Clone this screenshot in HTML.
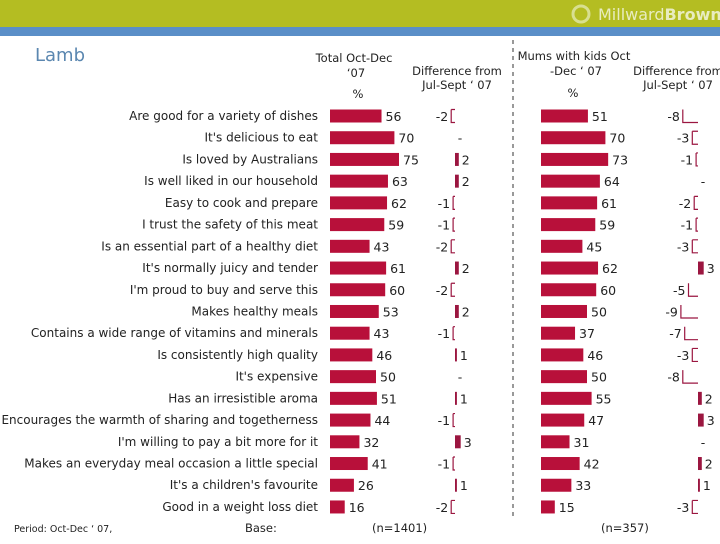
<!DOCTYPE html>
<html><head><meta charset="utf-8"><style>
body{margin:0;width:720px;height:540px;overflow:hidden;background:#fff;font-family:"DejaVu Sans","Liberation Sans",sans-serif;}
svg text{font-family:"DejaVu Sans","Liberation Sans",sans-serif;}
</style></head><body>
<svg id="c" width="720" height="540" xmlns="http://www.w3.org/2000/svg">
<rect x="0" y="0" width="720" height="27" fill="#b4bd22"/>
<rect x="0" y="27" width="720" height="9" fill="#5a8fc8"/>
<text x="598" y="20" font-size="16" fill="#e8ecc0">Millward<tspan font-weight="bold">Brown</tspan></text>
<circle cx="581" cy="14" r="8" fill="none" stroke="#d8df90" stroke-width="3"/>
<text x="35" y="61" font-size="18" fill="#5b87b0">Lamb</text>
<g font-size="11.5" fill="#222" text-anchor="middle">
<text x="354" y="62">Total Oct-Dec</text><text x="356" y="77">‘07</text><text x="358" y="98">%</text>
<text x="457" y="75">Difference from</text><text x="457" y="89">Jul-Sept ‘ 07</text>
<text x="574" y="60">Mums with kids Oct</text><text x="576" y="75">-Dec ‘ 07</text><text x="573" y="97">%</text>
<text x="678" y="75">Difference from</text><text x="678" y="89">Jul-Sept ‘ 07</text>
</g>
<line x1="513" y1="40" x2="513" y2="520" stroke="#333" stroke-dasharray="4,4"/>
<g font-size="11.5" fill="#222">
<text x="14" y="532" font-size="9.5">Period: Oct-Dec ‘ 07,</text>
<text x="245" y="532">Base:</text>
<text x="372" y="532">(n=1401)</text>
<text x="601" y="532">(n=357)</text>
</g>
</svg>
<script>
const categories=["Are good for a variety of dishes","It's delicious to eat","Is loved by Australians","Is well liked in our household","Easy to cook and prepare","I trust the safety of this meat","Is an essential part of a healthy diet","It's normally juicy and tender","I'm proud to buy and serve this","Makes healthy meals","Contains a wide range of vitamins and minerals","Is consistently high quality","It's expensive","Has an irresistible aroma","Encourages the warmth of sharing and togetherness","I'm willing to pay a bit more for it","Makes an everyday meal occasion a little special","It's a children's favourite","Good in a weight loss diet"];
const totalValues=[56,70,75,63,62,59,43,61,60,53,43,46,50,51,44,32,41,26,16];
const totalDiff=[-2,0,2,2,-1,-1,-2,2,-2,2,-1,1,0,1,-1,3,-1,1,-2];
const mumsValues=[51,70,73,64,61,59,45,62,60,50,37,46,50,55,47,31,42,33,15];
const mumsDiff=[-8,-3,-1,0,-2,-1,-3,3,-5,-9,-7,-3,-8,2,3,0,2,1,-3];
const svg=document.getElementById('c');
const NS='http://www.w3.org/2000/svg';
const y0=116,step=21.72,bh=13,RED='#b8103a';
const yS=i=>y0+i*step;
const xTot=v=>330+v*0.92, xMum=v=>541+v*0.92;
const dTot=v=>455+v*1.9, dMum=v=>698+v*1.9;
function mk(tag,attrs,parent){const e=document.createElementNS(NS,tag);for(const k in attrs)e.setAttribute(k,attrs[k]);(parent||svg).appendChild(e);return e;}
function txt(x,y,s,anchor,extra){const t=mk('text',Object.assign({x:x,y:y,'font-size':12.5,fill:'#222','text-anchor':anchor},extra||{}));t.textContent=s;return t;}
function diffMark(v,i,xf,name){
  const y=yS(i),z=xf(0);
  if(v>0){const r=mk('rect',{x:z,y:y-bh/2,width:xf(v)-z,height:bh,fill:'#9b1640'});
    
    
    const t=txt(xf(v)+3,y+5,String(v),'start');
    
    
  }else if(v<0){const x1=xf(v)-1;
    const p=mk('path',{d:`M${x1+1} ${y-bh/2} L${x1+1} ${y+bh/2} L${z} ${y+bh/2}`+(v<-3?'':` M${x1+1} ${y-bh/2} L${z} ${y-bh/2}`),fill:'none',stroke:'#9b1640','stroke-width':1.2});
    
    
    const t=txt(x1-2,y+5,String(v),'end');
    
    
  }else{const t=txt(z+5,y+5,'-','middle');
    
    }
}
categories.forEach((c,i)=>{
  const y=yS(i);
  const l=txt(318,y+4,c,'end',{'font-size':12,textLength:'',});
  l.removeAttribute('textLength');
  
  
  const b=mk('rect',{x:xTot(0),y:y-bh/2,width:xTot(totalValues[i])-xTot(0),height:bh,fill:RED});
  
  
  const tv=txt(xTot(totalValues[i])+4,y+5,String(totalValues[i]),'start');
  
  
  const m=mk('rect',{x:xMum(0),y:y-bh/2,width:xMum(mumsValues[i])-xMum(0),height:bh,fill:RED});
  
  
  const mv=txt(xMum(mumsValues[i])+4,y+5,String(mumsValues[i]),'start');
  
  
  diffMark(totalDiff[i],i,dTot,'total-diff');
  diffMark(mumsDiff[i],i,dMum,'mums-diff');
});
</script>
</body></html>
